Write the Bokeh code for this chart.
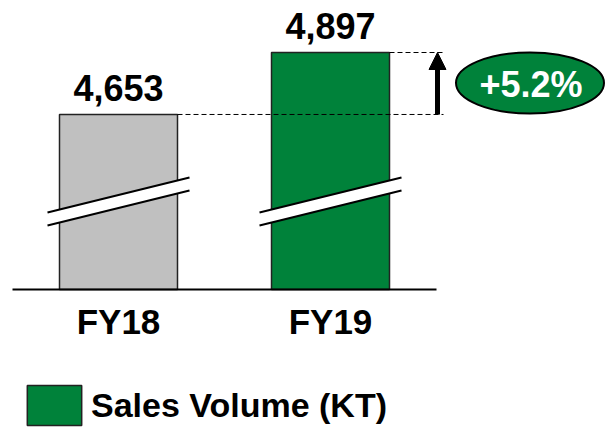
from bokeh.plotting import figure
from bokeh.models import Range1d, Arrow, NormalHead, Legend, LegendItem
from bokeh.core.properties import value
from bokeh.embed import file_html
from bokeh.resources import INLINE

# ---- data ----
categories = ["FY18", "FY19"]
sales_volume = [4653, 4897]
value_labels = ["4,653", "4,897"]
growth_label = "+5.2%"
legend_label = "Sales Volume (KT)"
bar_colors = ["#C0C0C0", "#00823A"]

# ---- geometry ----
W, H = 605, 427
FONT = "Liberation Sans"
BASE = 3964                      # value at the (broken) baseline
SLOT = 212.0                     # px between category centres
PXU = 237.0 / (sales_volume[1] - BASE)   # px per unit on y
TXT_FIX = 13                     # baseline correction (px)

x0 = -118.0 / SLOT
x1 = (W - 118.0) / SLOT
y1 = BASE + 289.0 / PXU
y0 = BASE - (H - 289.0) / PXU

def fx(px):
    return x0 + px / SLOT

def fy(py):
    return y1 - py / PXU

def dx(px):
    return px / SLOT

def dy(px):
    return px / PXU

p = figure(width=W, height=H, x_range=Range1d(x0, x1), y_range=Range1d(y0, y1),
           min_border=0, toolbar_location=None, output_backend="svg")
p.axis.visible = False
p.grid.visible = False
p.outline_line_color = None
p.background_fill_color = "white"
p.border_fill_color = "white"

xs = list(range(len(categories)))

# bars
bars = p.vbar(x=xs, top=sales_volume, bottom=BASE, width=dx(118), fill_color=bar_colors,
              line_color="#222222", line_width=1.5)

# axis line
p.segment(x0=[fx(12)], y0=[BASE], x1=[fx(436)], y1=[BASE], line_color="black", line_width=2)

# axis break marks
bxs, bys, l_xs, l_ys = [], [], [], []
for x in xs:
    xl, xr = x - dx(71), x + dx(71)
    up_l, up_r, lo_l, lo_r = fy(212), fy(177), fy(225), fy(190)
    bxs.append([xl, xr, xr, xl])
    bys.append([up_l, up_r, lo_r, lo_l])
    l_xs += [[xl, xr], [xl, xr]]
    l_ys += [[up_l, up_r], [lo_l, lo_r]]
p.patches(bxs, bys, fill_color="white", line_color=None)
p.multi_line(l_xs, l_ys, line_color="black", line_width=2)

# value labels
p.text(x=xs, y=[v + dy(13.5 + TXT_FIX) for v in sales_volume], text=value_labels,
       text_font=value(FONT), text_font_size="36px", text_font_style="bold",
       text_align="center", text_baseline="alphabetic", text_color="black")

# category labels
p.text(x=xs, y=[fy(334 - TXT_FIX)] * len(xs), text=categories,
       text_font=value(FONT), text_font_size="35px", text_font_style="bold",
       text_align="center", text_baseline="alphabetic", text_color="black")

# dashed guide lines
p.segment(x0=[xs[0] + dx(59), xs[1] + dx(59)], y0=sales_volume,
          x1=[fx(443), fx(443)], y1=sales_volume,
          line_color="black", line_width=1, line_dash="5 3")

# growth arrow
p.add_layout(Arrow(end=NormalHead(size=17, fill_color="black", line_color="black"),
                   x_start=fx(437), y_start=sales_volume[0],
                   x_end=fx(437), y_end=sales_volume[1],
                   line_width=5, line_color="black"))

# growth badge
p.ellipse(x=[fx(529.5)], y=[fy(82.5)], width=[148], height=[61],
          width_units="screen", height_units="screen",
          fill_color=bar_colors[1], line_color="black", line_width=2)
p.text(x=[fx(530.5)], y=[fy(97 - TXT_FIX)], text=[growth_label],
       text_font=value(FONT), text_font_size="36px", text_font_style="bold",
       text_align="center", text_baseline="alphabetic", text_color="white")

# legend (uses the FY19 bar's style)
legend = Legend(items=[LegendItem(label=legend_label, renderers=[bars], index=1)],
                location=(20, -3), glyph_width=68, glyph_height=50,
                label_standoff=3, padding=0, margin=0, spacing=0,
                border_line_color=None, background_fill_alpha=0,
                label_text_font=FONT, label_text_font_size="34px",
                label_text_font_style="bold", label_text_color="black")
p.add_layout(legend)

open("out.html", "w").write(file_html(p, INLINE))
